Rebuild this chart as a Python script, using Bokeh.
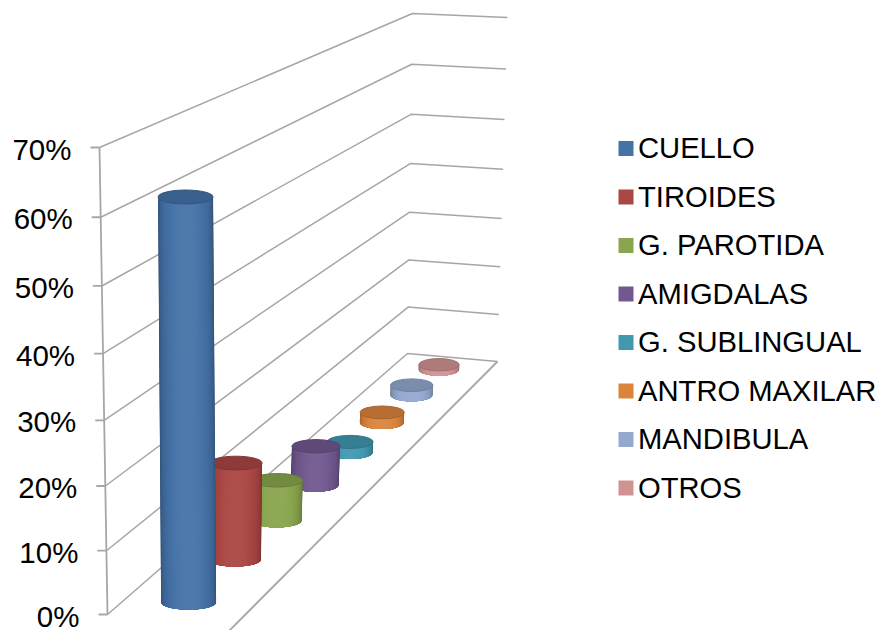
import numpy as np
from bokeh.core.properties import value as fixed
from bokeh.embed import file_html
from bokeh.models import Range1d
from bokeh.plotting import figure
from bokeh.resources import INLINE

categories = ["CUELLO", "TIROIDES", "G. PAROTIDA", "AMIGDALAS",
              "G. SUBLINGUAL", "ANTRO MAXILAR", "MANDIBULA", "OTROS"]
percentages = [62.5, 16, 7, 7, 2, 2, 2, 1]
colors = ["#4572A7", "#AA4643", "#89A54E", "#71588F",
          "#4198AF", "#DB843D", "#93A9CF", "#D19392"]
tick_values = [0, 10, 20, 30, 40, 50, 60, 70]
tick_labels = ["0%", "10%", "20%", "30%", "40%", "50%", "60%", "70%"]

FONT = "Liberation Sans"
GRID = "#A6A6A6"
VMAX = 70.0


def homography(quad):
    """Map the unit square (u across, t into depth) onto a screen quadrilateral."""
    src = [(0, 0), (1, 0), (0, 1), (1, 1)]
    rows, rhs = [], []
    for (u, t), (x, y) in zip(src, quad):
        rows.append([u, t, 1, 0, 0, 0, -u * x, -t * x])
        rows.append([0, 0, 0, u, t, 1, -u * y, -t * y])
        rhs += [x, y]
    h = np.linalg.solve(np.array(rows, float), np.array(rhs, float))
    return np.append(h, 1).reshape(3, 3)


# Oblique box: floor and ceiling planes as seen on screen (front-left,
# front-right, back-left, back-right).
FLOOR = homography([(107, 614), (222, 637), (407, 353), (497, 361)])
CEILING = homography([(99, 147), (217, 175), (412, 13), (507, 17)])
VERTICAL_PERSPECTIVE = -0.051


def on_plane(h, u, t):
    p = h @ np.array([u, t, 1.0])
    return p[:2] / p[2]


def project(u, t, v):
    """Screen position of a point given across, depth and percentage."""
    f = v / VMAX
    q = f * (1 + VERTICAL_PERSPECTIVE) / (1 + VERTICAL_PERSPECTIVE * f)
    a, b = on_plane(FLOOR, u, t), on_plane(CEILING, u, t)
    return a + (b - a) * q


def shade(color, k):
    rgb = np.array([int(color[i:i + 2], 16) for i in (1, 3, 5)], float)
    out = np.clip(rgb * k if k <= 1 else rgb + (255 - rgb) * (k - 1), 0, 255)
    return "#%02x%02x%02x" % tuple(int(c) for c in out)


p = figure(width=885, height=630, output_backend="svg", toolbar_location=None,
           x_range=Range1d(0, 885), y_range=Range1d(630, 0),
           min_border=0, outline_line_color=None, background_fill_color="white")
p.axis.visible = False
p.grid.visible = False

# Walls: gridlines along the left wall and the back wall.
for v in tick_values:
    a, b, c = project(0, 0, v), project(0, 1, v), project(1, 1, v)
    p.line([a[0], b[0], c[0]], [a[1], b[1], c[1]], line_color=GRID, line_width=1.5)
    tick_x = a[0] - 9
    p.line([tick_x, a[0]], [a[1], a[1]], line_color=GRID, line_width=1.8)

# Vertical axis and the visible rim of the floor.
axis_pts = [project(0, 0, v) for v in tick_values]
p.line([q[0] for q in axis_pts], [q[1] for q in axis_pts], line_color=GRID, line_width=1.8)
rim = [project(1, 1, 0), project(1, 0, 0)]
p.line([q[0] for q in rim], [q[1] for q in rim], line_color=GRID, line_width=1.8)

# Value-axis labels.
label_x, label_y = [], []
for v in tick_values:
    a = project(0, 0, v)
    label_x.append(a[0] - 28)
    label_y.append(a[1] + 1.5)
p.text(label_x, label_y, text=tick_labels, text_font=fixed(FONT), text_font_size="29.5px",
       text_align="right", text_baseline="middle", text_color="#000000")

# Cylinders, painted from the back of the floor to the front.  Each side is a
# stack of nested shells, darkest at the silhouette and lightest at the middle.
n = len(categories)
LEVELS = 16
ARC = 12
for i in range(n - 1, -1, -1):
    t = (i + 0.5) / n
    base = project(0.5, t, 0)
    top = project(0.5, t, percentages[i])
    width = np.linalg.norm(project(1, t, 0) - project(0, t, 0))
    rx = width * (0.24 - 0.02 * t)
    ry = rx * (0.25 + 0.06 * t)
    for level in range(LEVELS):
        inset = level / LEVELS * (np.pi / 2) * 0.92
        th = np.linspace(inset, np.pi - inset, ARC + 1)
        c, s = np.cos(th), np.sin(th)
        xs = np.r_[base[0] + rx * c, top[0] + rx * c[::-1]]
        ys = np.r_[base[1] + ry * s, top[1] + ry * s[::-1]]
        fill = shade(colors[i], 0.66 + 0.40 * np.sin(inset) ** 0.7)
        p.patch(xs, ys, fill_color=fill, line_color=None)
    p.ellipse(top[0], top[1], width=2 * rx, height=2 * ry,
              fill_color=shade(colors[i], 0.84), line_color=shade(colors[i], 0.76), line_width=1)

# Legend column.
legend_y = [148 + 48.5 * i for i in range(n)]
p.rect([625.5] * n, legend_y, width=15, height=15, fill_color=colors, line_color=None)
p.text([637.5] * n, [y - 0.5 for y in legend_y], text=categories, text_font=fixed(FONT),
       text_font_size="29.2px", text_align="left", text_baseline="middle", text_color="#000000")

open("out.html", "w").write(file_html(p, INLINE))
